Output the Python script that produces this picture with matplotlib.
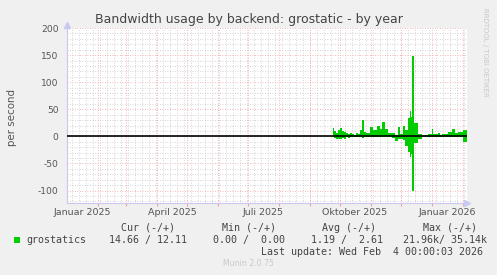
import matplotlib
matplotlib.use("Agg")
import matplotlib.pyplot as plt
import numpy as np
import pandas as pd
from matplotlib.patches import Rectangle

# daily-ish segments (start date of each step)
seg_dates = [
    "2025-09-24", "2025-09-25", "2025-09-27", "2025-09-29", "2025-10-01",
    "2025-10-03", "2025-10-05", "2025-10-07", "2025-10-09", "2025-10-11",
    "2025-10-13", "2025-10-15", "2025-10-17", "2025-10-19", "2025-10-21",
    "2025-10-23", "2025-10-25", "2025-10-27", "2025-10-31", "2025-11-03",
    "2025-11-07", "2025-11-10", "2025-11-12", "2025-11-15", "2025-11-18",
    "2025-11-22", "2025-11-25", "2025-11-28", "2025-11-30", "2025-12-03",
    "2025-12-05", "2025-12-08", "2025-12-10", "2025-12-11", "2025-12-12",
    "2025-12-14", "2025-12-18", "2025-12-22", "2025-12-28", "2026-01-01",
    "2026-01-02", "2026-01-07", "2026-01-09", "2026-01-11", "2026-01-17",
    "2026-01-21", "2026-01-24", "2026-01-27", "2026-02-01",
]
out_vals = [16, 10, 7, 12, 15, 10, 8, 6, 4, 6,
            4, 3, 6, 4, 12, 31, 8, 6, 17, 12,
            20, 13, 26, 13, 6, 7, 3, 18, 5, 20,
            11, 33, 47, 36, 148, 25, 4, 2, 4, 14,
            5, 6, 3, 5, 8, 13, 6, 8, 11]
in_vals = [2, 3, 4, 5, 4, 3, 5, 2, 3, 1,
           2, 1, 2, 1, 2, 3, 2, 1, 2, 1,
           2, 1, 2, 1, 2, 3, 9, 4, 4, 6,
           18, 28, 38, 32, 100, 13, 4, 2, 1, 2,
           1, 2, 1, 1, 2, 2, 1, 2, 10]
end_date = "2026-02-05"

x_labels = ["Januar 2025", "April 2025", "Juli 2025", "Oktober 2025", "Januar 2026"]
x_label_pos = ["2025-01-16", "2025-04-16", "2025-07-16", "2025-10-16", "2026-01-16"]
y_ticks = [-100, -50, 0, 50, 100, 150, 200]

title = "Bandwidth usage by backend: grostatic - by year"
green = "#00cc00"
bg = "#f0f0f0"

W, H = 497, 275
fig = plt.figure(figsize=(W / 100, H / 100), dpi=100, facecolor=bg)
ax = fig.add_axes([67 / W, (H - 203) / H, 400 / W, 175 / H])
ax.set_facecolor("white")

x0 = pd.Timestamp("2025-01-01")
x1 = pd.Timestamp(end_date)
ax.set_xlim(x0, x1)
ax.set_ylim(-123, 200)

# grid
months = pd.date_range("2025-02-01", "2026-02-01", freq="MS")
weeks = pd.date_range("2025-01-06", "2026-02-02", freq="7D")
for v in np.arange(-120, 201, 10):
    if v % 50 == 0:
        continue
    ax.axhline(v, color="#c8c8c8", lw=0.6, ls=(0, (1, 2)), zorder=0)
for w in weeks:
    ax.axvline(w, color="#c8c8c8", lw=0.6, ls=(0, (1, 2)), zorder=0)
for v in y_ticks:
    ax.axhline(v, color="#f0a0a0", lw=0.6, ls=(0, (1, 2)), zorder=1)
for m in months:
    ax.axvline(m, color="#f0a0a0", lw=0.6, ls=(0, (1, 2)), zorder=1)

# data
d = pd.to_datetime(seg_dates + [end_date])
o = np.array(out_vals + [out_vals[-1]], dtype=float)
i = np.array(in_vals + [in_vals[-1]], dtype=float)
ax.fill_between(d, 0, o, step="post", facecolor=green, edgecolor="none", lw=0, zorder=2)
ax.fill_between(d, 0, -i, step="post", facecolor=green, edgecolor="none", lw=0, zorder=2)
ax.axhline(0, color="black", lw=1.2, zorder=3)

# axes
for s in ["top", "right"]:
    ax.spines[s].set_visible(False)
for s in ["left", "bottom"]:
    ax.spines[s].set_color("#c8c8f0")
    ax.spines[s].set_linewidth(0.8)
ax.plot([1.0], [0], marker=">", ms=5, color="#c8c8f0", transform=ax.transAxes,
        clip_on=False, zorder=4)
ax.plot([0], [1.02], marker="^", ms=5, color="#c8c8f0", transform=ax.transAxes,
        clip_on=False, zorder=4)

ax.set_yticks(y_ticks)
ax.set_yticklabels([str(v) for v in y_ticks])
ax.tick_params(axis="y", length=0, pad=6, labelsize=6.6, labelcolor="#555555")
ax.set_xticks(months)
ax.set_xticklabels([])
ax.tick_params(axis="x", length=2, color="#f0a0a0", direction="out")
for lab, pos in zip(x_labels, x_label_pos):
    ax.text(pd.Timestamp(pos), -0.055, lab, transform=ax.get_xaxis_transform(),
            ha="center", va="center", fontsize=6.8, color="#555555")

fig.text(12 / W, 1 - 118 / H, "per second", rotation=90, ha="center", va="center",
         fontsize=7.4, color="#555555")
fig.text(249 / W, 1 - 19 / H, title, ha="center", va="center", fontsize=9, color="#444444")
fig.text(485 / W, 1 - 52 / H, "RRDTOOL / TOBI OETIKER", rotation=270, ha="center",
         va="center", fontsize=5, color="#c8c8c8")

# legend block
mono = "DejaVu Sans Mono"
fs = 7.2
def ftxt(x, y, s, ha="left", color="#444444", size=fs, family=mono):
    fig.text(x / W, 1 - y / H, s, ha=ha, va="center", fontsize=size, color=color,
             family=family)

headers = ["Cur (-/+)", "Min (-/+)", "Avg (-/+)", "Max (-/+)"]
header_x = [120.7, 221.7, 322, 422.7]
values = ["14.66 / 12.11", "0.00 /  0.00", "1.19 /  2.61", "21.96k/ 35.14k"]
values_x = [109, 212.7, 310.7, 402.7]
for s, x in zip(headers, header_x):
    ftxt(x, 227.7, s)
ftxt(26, 240, "grostatics")
for s, x in zip(values, values_x):
    ftxt(x, 240, s)
ftxt(482.7, 251.7, "Last update: Wed Feb  4 00:00:03 2026", ha="right")
ftxt(248, 263.3, "Munin 2.0.75", ha="center", color="#c8c8c8", size=5.6, family="DejaVu Sans")
fig.patches.append(Rectangle((14 / W, 1 - 243 / H), 6 / W, 6 / H, transform=fig.transFigure,
                             facecolor=green, edgecolor="none"))

fig.savefig("out.png", dpi=100, facecolor=bg)
